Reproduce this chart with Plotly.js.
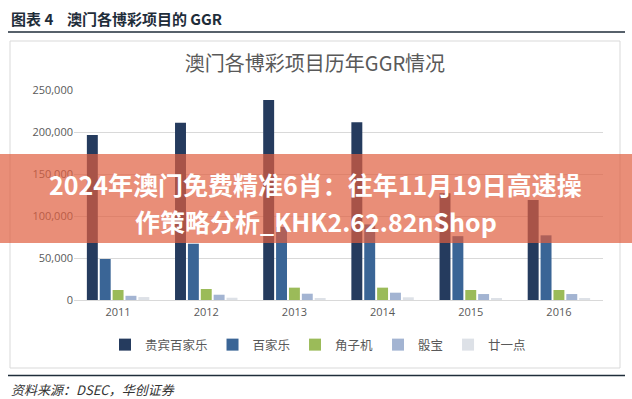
<!DOCTYPE html>
<html><head><meta charset="utf-8">
<script src="https://cdn.plot.ly/plotly-3.0.1.min.js"></script>
<style>html,body{margin:0;padding:0;background:#fff;}#chart{width:632px;height:399px;}</style>
</head><body><div id="chart"></div>
<script>
// ---- data ----
const years = ['2011', '2012', '2013', '2014', '2015', '2016'];
const seriesNames = ['贵宾百家乐', '百家乐', '角子机', '骰宝', '廿一点'];
const vipBaccarat = [196500, 211000, 238000, 211500, 127000, 119000];
const massBaccarat = [48800, 67000, 87000, 90000, 76000, 77000];
const slots = [11900, 13100, 14700, 14700, 11900, 11900];
const sicBo = [5000, 6300, 7500, 8700, 7100, 7100];
const blackjack = [3500, 2700, 2000, 3200, 1500, 1500];
const yTickVals = [0, 50000, 100000, 150000, 200000, 250000];
const yTickText = ['0', '50,000', '100,000', '150,000', '200,000', '250,000'];
const chartTitle = '澳门各博彩项目历年GGR情况';
const headerText = '图表 4\u00a0\u00a0\u00a0\u00a0澳门各博彩项目的 GGR';
const sourceText = '资料来源：DSEC，华创证券';
const bannerLine1 = '2024年澳门免费精准6肖：往年11月19日高速操';
const bannerLine2 = '作策略分析_KHK2.62.82nShop';

// ---- layout helpers ----
const W = 632, H = 399;
const M = {l: 74, r: 29, t: 90, b: 99};
const PW = W - M.l - M.r, PH = H - M.t - M.b;
const px = v => (v - M.l) / PW;
const py = v => (H - M.b - v) / PH;

const colors = ['#253B5E', '#3A6596', '#9BBB59', '#A3B4D2', '#DDE1E7'];
const seriesData = [vipBaccarat, massBaccarat, slots, sicBo, blackjack];

const traces = seriesNames.map((n, i) => ({
  type: 'bar', name: n, x: years, y: seriesData[i],
  marker: {color: colors[i], line: {width: 0}},
  hoverinfo: 'x+y+name'
}));

const layout = {
  width: W, height: H,
  margin: M,
  paper_bgcolor: '#ffffff', plot_bgcolor: '#ffffff',
  font: {family: '"Noto Sans CJK SC", "Noto Sans", sans-serif', color: '#595959'},
  barmode: 'group', bargap: 0.27, bargroupgap: 0.15,
  title: {
    text: chartTitle, xref: 'paper', yref: 'container',
    x: px(315), xanchor: 'center', y: 1 - 64 / H, yanchor: 'middle',
    font: {family: '"Noto Sans CJK SC", sans-serif', size: 20, color: '#595959'}
  },
  xaxis: {
    type: 'category', showgrid: false, zeroline: false, showline: false,
    ticks: '', tickfont: {family: '"Open Sans", "Noto Sans", sans-serif', size: 11, color: '#595959'},
    ticklabelstandoff: 4
  },
  yaxis: {
    range: [0, 250000], tickvals: yTickVals, ticktext: yTickText,
    showgrid: true, gridcolor: '#D9D9D9', gridwidth: 1,
    zeroline: true, zerolinecolor: '#D9D9D9', zerolinewidth: 1,
    showline: false, ticks: '',
    tickfont: {family: '"Open Sans", "Noto Sans", sans-serif', size: 11, color: '#595959'}
  },
  showlegend: true,
  legend: {
    orientation: 'h', x: px(318), xanchor: 'center', y: py(345), yanchor: 'middle',
    font: {family: '"Noto Sans CJK SC", sans-serif', size: 12.5, color: '#595959'},
    itemwidth: 30, traceorder: 'normal', bgcolor: 'rgba(0,0,0,0)'
  },
  shapes: [
    // chart frame
    {type: 'rect', xref: 'paper', yref: 'paper', x0: px(10), x1: px(620), y0: py(41), y1: py(368),
     line: {color: '#D9D9D9', width: 1}, fillcolor: 'rgba(0,0,0,0)', layer: 'below'},
    // header rule
    {type: 'line', xref: 'paper', yref: 'paper', x0: px(8), x1: px(625), y0: py(32), y1: py(32),
     line: {color: '#1F2D3A', width: 1.5}},
    // footer rule
    {type: 'line', xref: 'paper', yref: 'paper', x0: px(8), x1: px(625), y0: py(375.5), y1: py(375.5),
     line: {color: '#1F2D3A', width: 1.5}},
    // overlay banner
    {type: 'rect', xref: 'paper', yref: 'paper', x0: px(0), x1: px(632), y0: py(154), y1: py(243),
     line: {width: 0}, fillcolor: 'rgba(224,94,62,0.7)', layer: 'above'}
  ],
  annotations: [
    {text: headerText, xref: 'paper', yref: 'paper', x: px(9), y: py(18), xanchor: 'left', yanchor: 'middle',
     showarrow: false, font: {family: '"Noto Sans CJK SC", sans-serif', size: 15, weight: 'bold', color: '#1F2D3A'}},
    {text: sourceText, xref: 'paper', yref: 'paper', x: px(9), y: py(389), xanchor: 'left', yanchor: 'middle',
     showarrow: false, font: {family: '"Noto Sans CJK SC", sans-serif', size: 13, style: 'italic', color: '#333333'}},
    {text: bannerLine1, xref: 'paper', yref: 'paper', x: px(315), y: py(184), xanchor: 'center', yanchor: 'middle',
     showarrow: false, font: {family: '"Noto Sans CJK SC", sans-serif', size: 25, weight: 'bold', color: '#ffffff'}},
    {text: bannerLine2, xref: 'paper', yref: 'paper', x: px(316), y: py(221), xanchor: 'center', yanchor: 'middle',
     showarrow: false, font: {family: '"Noto Sans CJK SC", sans-serif', size: 25, weight: 'bold', color: '#ffffff'}}
  ]
};

Plotly.newPlot('chart', traces, layout, {displayModeBar: false, responsive: false});
</script>
</body></html>
